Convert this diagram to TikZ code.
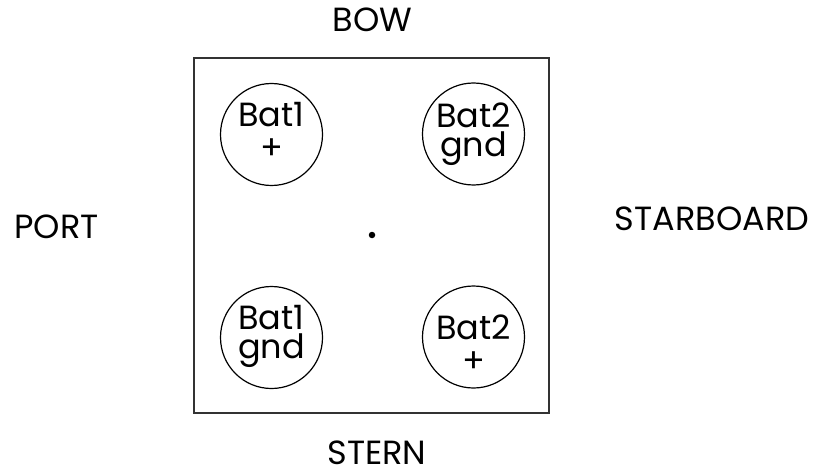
\documentclass[tikz,border=0pt]{standalone}
\usepackage{fontspec}
\setmainfont{Poppins}
\begin{document}
\begin{tikzpicture}[x=1pt,y=-1pt,
  lbl/.style={font=\fontsize{33.5}{29}\selectfont, inner sep=0pt},
  side/.style={lbl, anchor=base, text depth=0pt},
  cell/.style={lbl, anchor=north, align=center},
  batt/.style={circle, draw, line width=1.2pt, minimum size=102pt, inner sep=0pt},
  hull/.style={draw, line width=1.4pt, black!80}]
  \useasboundingbox (0,0) rectangle (813,473);
  % outline of the battery box
  \draw[hull] (194,58) rectangle (549,413);
  \node[circle, fill, inner sep=0pt, minimum size=6.5pt] (mid) at (372,235) {};
  % orientation labels
  \node[side] (bow) at (372.5,32) {BOW};
  \node[side] (stern) at (377,464) {STERN};
  \node[side] (port) at (56.5,238) {PORT};
  \node[side] (stbd) at (712,230) {STARBOARD};
  % battery terminals
  \node[batt] (b1p) at (271.5,134.5) {};
  \node[batt] (b2g) at (473.5,134) {};
  \node[batt] (b1g) at (271.5,337.5) {};
  \node[batt] (b2p) at (473.5,337) {};
  \node[cell] (b1pt) at (271.5,102) {Bat1\\[4pt]+};
  \node[cell] (b2gt) at (473.5,103) {Bat2\\gnd};
  \node[cell] (b1gt) at (271.5,305) {Bat1\\gnd};
  \node[cell] (b2pt) at (473.5,315) {Bat2\\[4pt]+};
\end{tikzpicture}
\end{document}
